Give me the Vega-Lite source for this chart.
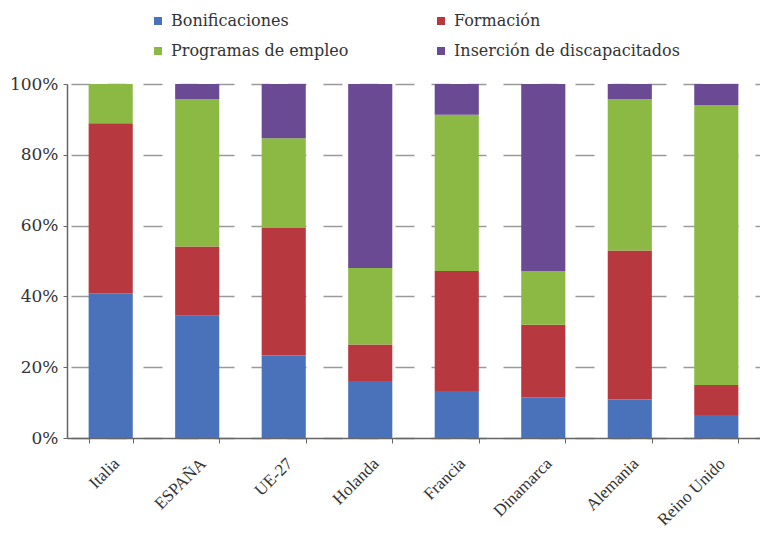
{
  "$schema": "https://vega.github.io/schema/vega-lite/v6.json",
  "width": 693,
  "height": 354,
  "autosize": {"type": "none"},
  "padding": {"left": 67, "top": 84, "right": 0, "bottom": 95},
  "background": "white",
  "data": {
    "values": [
      {"pais": "Italia", "tipo": "Bonificaciones", "k": 1, "v": 40.9},
      {"pais": "Italia", "tipo": "Formación", "k": 2, "v": 48.0},
      {"pais": "Italia", "tipo": "Programas de empleo", "k": 3, "v": 11.1},
      {"pais": "Italia", "tipo": "Inserción de discapacitados", "k": 4, "v": 0},
      {"pais": "ESPAÑA", "tipo": "Bonificaciones", "k": 1, "v": 34.5},
      {"pais": "ESPAÑA", "tipo": "Formación", "k": 2, "v": 19.6},
      {"pais": "ESPAÑA", "tipo": "Programas de empleo", "k": 3, "v": 41.6},
      {"pais": "ESPAÑA", "tipo": "Inserción de discapacitados", "k": 4, "v": 4.3},
      {"pais": "UE-27", "tipo": "Bonificaciones", "k": 1, "v": 23.3},
      {"pais": "UE-27", "tipo": "Formación", "k": 2, "v": 36.0},
      {"pais": "UE-27", "tipo": "Programas de empleo", "k": 3, "v": 25.4},
      {"pais": "UE-27", "tipo": "Inserción de discapacitados", "k": 4, "v": 15.3},
      {"pais": "Holanda", "tipo": "Bonificaciones", "k": 1, "v": 16.1},
      {"pais": "Holanda", "tipo": "Formación", "k": 2, "v": 10.3},
      {"pais": "Holanda", "tipo": "Programas de empleo", "k": 3, "v": 21.6},
      {"pais": "Holanda", "tipo": "Inserción de discapacitados", "k": 4, "v": 52.0},
      {"pais": "Francia", "tipo": "Bonificaciones", "k": 1, "v": 13.3},
      {"pais": "Francia", "tipo": "Formación", "k": 2, "v": 33.9},
      {"pais": "Francia", "tipo": "Programas de empleo", "k": 3, "v": 44.1},
      {"pais": "Francia", "tipo": "Inserción de discapacitados", "k": 4, "v": 8.7},
      {"pais": "Dinamarca", "tipo": "Bonificaciones", "k": 1, "v": 11.5},
      {"pais": "Dinamarca", "tipo": "Formación", "k": 2, "v": 20.5},
      {"pais": "Dinamarca", "tipo": "Programas de empleo", "k": 3, "v": 15.2},
      {"pais": "Dinamarca", "tipo": "Inserción de discapacitados", "k": 4, "v": 52.8},
      {"pais": "Alemania", "tipo": "Bonificaciones", "k": 1, "v": 10.9},
      {"pais": "Alemania", "tipo": "Formación", "k": 2, "v": 42.1},
      {"pais": "Alemania", "tipo": "Programas de empleo", "k": 3, "v": 42.7},
      {"pais": "Alemania", "tipo": "Inserción de discapacitados", "k": 4, "v": 4.3},
      {"pais": "Reino Unido", "tipo": "Bonificaciones", "k": 1, "v": 6.5},
      {"pais": "Reino Unido", "tipo": "Formación", "k": 2, "v": 8.5},
      {"pais": "Reino Unido", "tipo": "Programas de empleo", "k": 3, "v": 79.1},
      {"pais": "Reino Unido", "tipo": "Inserción de discapacitados", "k": 4, "v": 5.9}
    ]
  },
  "mark": {"type": "bar"},
  "encoding": {
    "x": {
      "field": "pais",
      "type": "nominal",
      "sort": null,
      "scale": {"paddingInner": 0.49, "paddingOuter": 0.25},
      "axis": {
        "title": null,
        "labelAngle": -45,
        "labelAlign": "right",
        "labelBaseline": "top",
        "labelPadding": 12,
        "labelFontSize": 17,
        "labelColor": "#333333",
        "tickBand": "extent",
        "tickSize": 5,
        "tickColor": "#666666",
        "domainColor": "#666666",
        "domainWidth": 1.5,
        "grid": false
      }
    },
    "y": {
      "field": "v",
      "type": "quantitative",
      "stack": "normalize",
      "scale": {"domain": [0, 1]},
      "axis": {
        "title": null,
        "format": ".0%",
        "values": [0, 0.2, 0.4, 0.6, 0.8, 1],
        "labelFont": "DejaVu Serif",
        "labelFontSize": 17,
        "labelColor": "#333333",
        "labelPadding": 5,
        "tickSize": 4,
        "tickColor": "#666666",
        "domainColor": "#666666",
        "domainWidth": 1.5,
        "grid": true,
        "gridColor": "#9a9a9a",
        "gridWidth": 1.5,
        "gridDash": [19, 17],
        "gridDashOffset": 32
      }
    },
    "color": {
      "field": "tipo",
      "type": "nominal",
      "scale": {
        "domain": ["Bonificaciones", "Formación", "Programas de empleo", "Inserción de discapacitados"],
        "range": ["#4a72ba", "#b8383f", "#8cb943", "#6a4b93"]
      },
      "legend": {
        "title": null,
        "orient": "none",
        "legendX": 83,
        "legendY": -71,
        "direction": "horizontal",
        "columns": 2,
        "columnPadding": 84,
        "rowPadding": 14,
        "symbolType": "square",
        "symbolSize": 64,
        "symbolStrokeWidth": 0,
        "symbolOffset": 0,
        "labelFont": "DejaVu Serif",
        "labelFontSize": 16,
        "labelLimit": 0,
        "labelColor": "#333333",
        "labelOffset": 5
      }
    },
    "order": {"field": "k", "type": "quantitative", "sort": "ascending"}
  },
  "config": {
    "font": "Liberation Serif",
    "view": {"stroke": null}
  }
}
